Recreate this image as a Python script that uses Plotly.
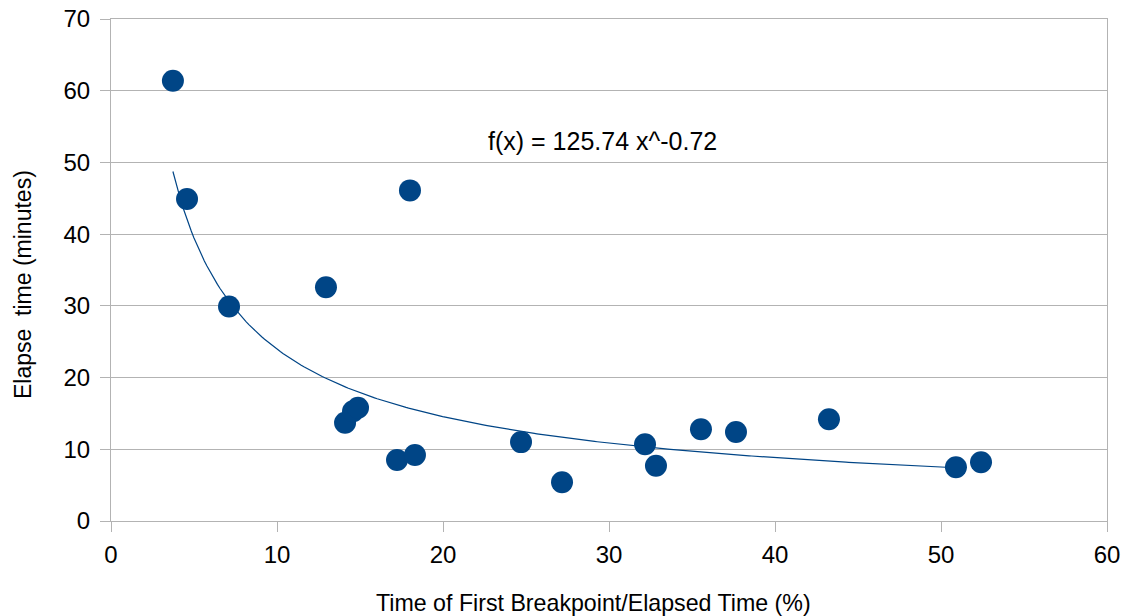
import numpy as np
import plotly.graph_objects as go

x_vals = [3.73, 4.58, 7.11, 12.95, 18.01, 14.10, 14.58, 14.88, 17.23, 18.31,
          24.70, 27.17, 32.17, 32.83, 35.54, 37.65, 43.25, 50.90, 52.41]
y_vals = [61.4, 44.9, 29.9, 32.6, 46.1, 13.7, 15.3, 15.8, 8.5, 9.2,
          11.0, 5.4, 10.7, 7.7, 12.8, 12.4, 14.2, 7.5, 8.2]

trend_a = 125.74
trend_b = -0.72
trend_x_start = 3.73
trend_x_end = 50.9
trend_label = "f(x) = 125.74 x^-0.72"

x_ticks = [0, 10, 20, 30, 40, 50, 60]
y_ticks = [0, 10, 20, 30, 40, 50, 60, 70]

COLOR = "#004586"
GRID = "#b3b3b3"
FONT = "Liberation Sans"

tx = np.linspace(trend_x_start, trend_x_end, 300)
ty = trend_a * tx ** trend_b

W, H = 1127, 616
l, r, t, b = 111, 20, 19, 95
pw, ph = W - l - r, H - t - b

fig = go.Figure()
fig.add_trace(go.Scatter(x=tx, y=ty, mode="lines",
                         line=dict(color=COLOR, width=1.2), hoverinfo="skip",
                         showlegend=False))
fig.add_trace(go.Scatter(x=x_vals, y=y_vals, mode="markers",
                         marker=dict(color=COLOR, size=22, line=dict(width=0)),
                         showlegend=False))

fig.update_layout(
    width=W, height=H,
    margin=dict(l=l, r=r, t=t, b=b, autoexpand=False),
    paper_bgcolor="white", plot_bgcolor="white",
    font=dict(family=FONT, color="black"),
    xaxis=dict(range=[0, 60], tickvals=x_ticks, showgrid=False, automargin=False,
               showline=True, linecolor=GRID, linewidth=1, mirror=True,
               ticks="outside", ticklen=10, tickcolor=GRID, tickwidth=1,
               ticklabelstandoff=2,
               tickfont=dict(size=24, family=FONT), zeroline=False),
    yaxis=dict(range=[0, 70], tickvals=y_ticks, showgrid=True, automargin=False,
               gridcolor=GRID, gridwidth=1,
               showline=True, linecolor=GRID, linewidth=1, mirror=True,
               ticks="outside", ticklen=10, tickcolor=GRID, tickwidth=1,
               ticklabelstandoff=5,
               tickfont=dict(size=24, family=FONT), zeroline=False),
)
fig.add_annotation(x=(602 - l) / pw, y=(H - b - 141) / ph, xref="paper", yref="paper",
                   text=trend_label, showarrow=False,
                   font=dict(size=25, family=FONT), yanchor="middle")
fig.add_annotation(x=(593 - l) / pw, y=(H - b - 603) / ph, xref="paper", yref="paper",
                   text="Time of First Breakpoint/Elapsed Time (%)", showarrow=False,
                   font=dict(size=23.2, family=FONT), yanchor="middle")
fig.add_annotation(x=(23 - l) / pw, y=(H - b - 285) / ph, xref="paper", yref="paper",
                   text="Elapse  time (minutes)", showarrow=False, textangle=-90,
                   font=dict(size=23, family=FONT), xanchor="center", yanchor="middle")

fig.write_html("out.html")
